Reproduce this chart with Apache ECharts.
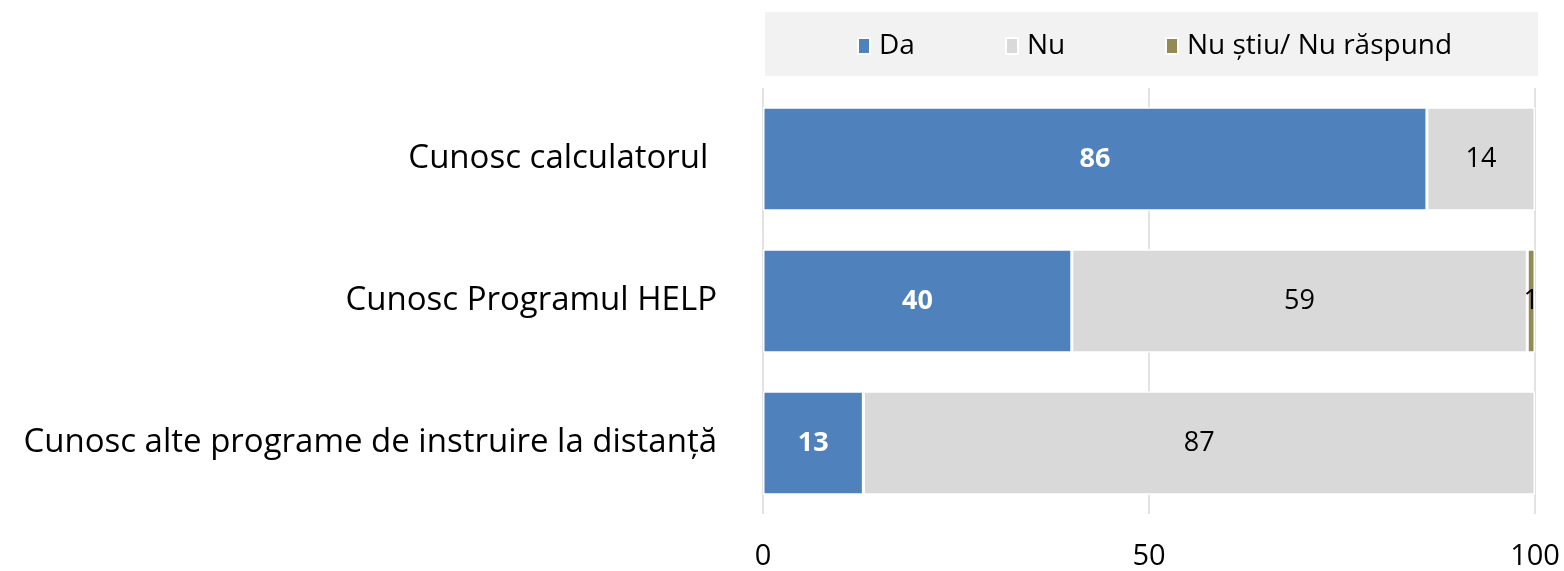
<!DOCTYPE html>
<html lang="ro">
  <head>
    <meta charset="UTF-8" />
    <title>Cunosc calculatorul / Programul HELP</title>
    <script src="https://cdn.jsdelivr.net/npm/echarts@6/dist/echarts.min.js"></script>
    <style>
      html, body { margin: 0; padding: 0; background: #fff; }
      #chart { width: 1564px; height: 571px; }
    </style>
  </head>
  <body>
    <div id="chart"></div>
    <script>
      // date (de jos in sus, cum le asaza axa de categorii)
      const categories = [
        "Cunosc alte programe de instruire la distanță",
        "Cunosc Programul HELP",
        "Cunosc calculatorul ",
      ];
      const da = [13, 40, 86];
      const nu = [87, 59, 14];
      const nuStiu = [null, 1, null];
      const xTicks = [0, 50, 100];

      const FONT = '"Open Sans", sans-serif';
      const colors = { da: "#4f81bd", nu: "#d9d9d9", ns: "#948a54" };

      const legendAt = (name, left) => ({
        data: [name],
        left: left,
        top: 27,
        itemWidth: 12,
        itemHeight: 16,
        itemGap: 0,
        icon: "rect",
        textStyle: { fontFamily: FONT, fontSize: 28, color: "#000", padding: [0, 0, 0, 4] },
      });

      const seg = (name, data, color, labelColor, bold) => ({
        name,
        type: "bar",
        stack: "total",
        data,
        barCategoryGap: "27%",
        itemStyle: { color, borderColor: "#fff", borderWidth: 1.5 },
        label: {
          show: true,
          position: "inside",
          color: labelColor,
          fontFamily: FONT,
          fontSize: 27,
          fontWeight: bold ? "bold" : "normal",
        },
        emphasis: { disabled: true },
      });

      const chart = echarts.init(document.getElementById("chart"));
      chart.setOption({
        animation: false,
        graphic: [
          {
            type: "rect",
            left: 765,
            top: 12,
            shape: { width: 773, height: 64 },
            style: { fill: "#f2f2f2" },
            z: -1,
          },
        ],
        legend: [
          legendAt("Da", 852),
          legendAt("Nu", 1000),
          legendAt("Nu știu/ Nu răspund", 1160),
        ],
        grid: { left: 763, right: 29, top: 88, bottom: 56, containLabel: false },
        xAxis: {
          type: "value",
          min: 0,
          max: 100,
          interval: 50,
          axisLine: { show: false },
          axisTick: { show: false },
          splitLine: { show: true, lineStyle: { color: "#d9d9d9", width: 1.5 } },
          axisLabel: {
            margin: 28,
            fontFamily: FONT,
            fontSize: 29,
            color: "#000",
            formatter: (v) => (xTicks.includes(v) ? String(v) : ""),
          },
        },
        yAxis: {
          type: "category",
          data: categories,
          axisLine: { show: false },
          axisTick: { show: false },
          axisLabel: { margin: 46, fontFamily: FONT, fontSize: 33, color: "#000" },
        },
        series: [
          seg("Da", da, colors.da, "#fff", true),
          seg("Nu", nu, colors.nu, "#000", false),
          seg("Nu știu/ Nu răspund", nuStiu, colors.ns, "#000", false),
        ],
      });
    </script>
  </body>
</html>
